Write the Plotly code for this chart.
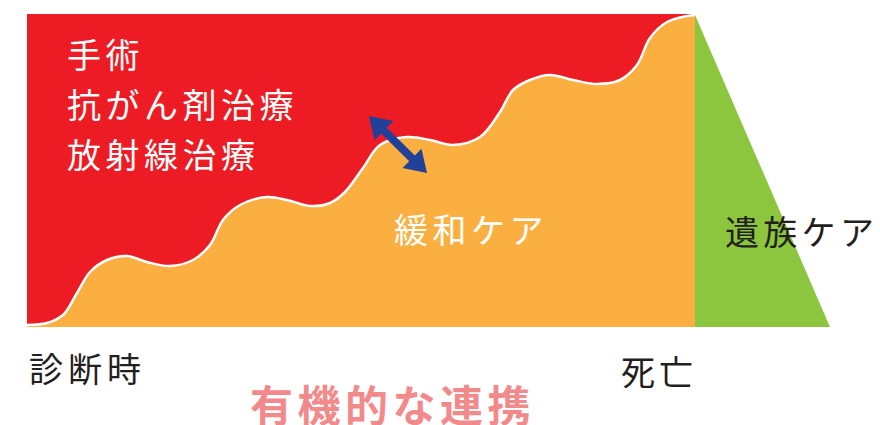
import numpy as np
import plotly.graph_objects as go

# ---- data (pixel-space diagram coordinates) ----
panel_x = [27, 695]
panel_y = [14, 327]
wave_x = [27, 47, 63, 77, 90, 107, 127, 147, 170, 193, 210, 223, 240, 267, 287, 310, 330,
          345, 363, 380, 407, 430, 453, 480, 500, 513, 530, 550, 573, 597, 620, 637, 650,
          667, 687, 695]
wave_y = [325, 323, 315, 293, 272, 260, 256, 262, 266, 260, 245, 220, 205, 197, 200, 206, 203,
          192, 168, 145, 137, 140, 145, 137, 112, 90, 80, 75, 80, 84, 80, 65, 38,
          22, 16, 15]
green_x = [695, 830, 695]
green_y = [15, 327, 327]
arrow_start = (369, 116)
arrow_end = (427, 173)

treat_labels = ["手術", "抗がん剤治療", "放射線治療"]
treat_y = [53, 103, 153]
palliative_label = "緩和ケア"
bereave_label = "遺族ケア"
diag_label = "診断時"
death_label = "死亡"
coop_label = "有機的な連携"

RED = "#ED1C24"
ORANGE = "#FAAF40"
GREEN = "#8CC63F"
BLUE = "#21409A"
DARK = "#231F20"
PINK = "#F28A8C"
FONT = "Noto Sans CJK JP"

fig = go.Figure()

# orange panel
fig.add_trace(go.Scatter(
    x=[panel_x[0], panel_x[1], panel_x[1], panel_x[0], panel_x[0]],
    y=[panel_y[0], panel_y[0], panel_y[1], panel_y[1], panel_y[0]],
    fill="toself", fillcolor=ORANGE, line=dict(width=0), mode="lines",
    hoverinfo="skip", showlegend=False))

# top edge (reference for red fill)
fig.add_trace(go.Scatter(
    x=[panel_x[0], panel_x[1]], y=[panel_y[0], panel_y[0]],
    mode="lines", line=dict(width=0, color=RED), hoverinfo="skip", showlegend=False))

# red area above the wave, with white wave line
fig.add_trace(go.Scatter(
    x=wave_x, y=wave_y, mode="lines", fill="tonexty", fillcolor=RED,
    line=dict(color="white", width=2.5, shape="spline", smoothing=1.0),
    hoverinfo="skip", showlegend=False))

# left-bottom corner patch of red (below wave start)
fig.add_trace(go.Scatter(
    x=[panel_x[0], wave_x[0], panel_x[0]], y=[wave_y[0], wave_y[0], panel_y[1]],
    mode="lines", line=dict(width=0), fill="toself", fillcolor=RED,
    hoverinfo="skip", showlegend=False))

# green triangle
fig.add_trace(go.Scatter(
    x=green_x + [green_x[0]], y=green_y + [green_y[0]],
    fill="toself", fillcolor=GREEN, line=dict(width=0), mode="lines",
    hoverinfo="skip", showlegend=False))

# double-headed arrow polygon built from its two end points
p0 = np.array(arrow_start, dtype=float)
p1 = np.array(arrow_end, dtype=float)
d = (p1 - p0) / np.linalg.norm(p1 - p0)
n = np.array([-d[1], d[0]])
head_len, head_hw, shaft_hw = 21.0, 13.5, 4.0
b0 = p0 + d * head_len
b1 = p1 - d * head_len
poly = [p0, b0 + n * head_hw, b0 + n * shaft_hw, b1 + n * shaft_hw, b1 + n * head_hw, p1,
        b1 - n * head_hw, b1 - n * shaft_hw, b0 - n * shaft_hw, b0 - n * head_hw, p0]
fig.add_trace(go.Scatter(
    x=[p[0] for p in poly], y=[p[1] for p in poly], mode="lines",
    fill="toself", fillcolor=BLUE, line=dict(width=0, color=BLUE),
    hoverinfo="skip", showlegend=False))

ann = []


def sp(t, ls):
    return f'<span style="letter-spacing:{ls}px">{t}</span>'


for lab, yy in zip(treat_labels, treat_y):
    ann.append(dict(x=65, y=yy, xref="x", yref="y", text=sp(lab, 4.5), showarrow=False,
                    xanchor="left", yanchor="middle",
                    font=dict(family=FONT, size=34, color="white")))

ann.append(dict(x=392, y=228, xref="x", yref="y", text=sp(palliative_label, 4.5),
                showarrow=False, xanchor="left", yanchor="middle",
                font=dict(family=FONT, size=34, color="white")))
ann.append(dict(x=723, y=230, xref="x", yref="y", text=sp(bereave_label, 4.3),
                showarrow=False, xanchor="left", yanchor="middle",
                font=dict(family=FONT, size=34, color=DARK)))
ann.append(dict(x=27, y=367, xref="x", yref="y", text=sp(diag_label, 5),
                showarrow=False, xanchor="left", yanchor="middle",
                font=dict(family=FONT, size=34, color=DARK)))
ann.append(dict(x=619, y=370, xref="x", yref="y", text=sp(death_label, 4),
                showarrow=False, xanchor="left", yanchor="middle",
                font=dict(family=FONT, size=34, color=DARK)))
ann.append(dict(x=248, y=403, xref="x", yref="y", text=sp("<b>" + coop_label + "</b>", 4.5),
                showarrow=False, xanchor="left", yanchor="middle",
                font=dict(family=FONT, size=43, color=PINK)))

fig.update_layout(
    width=880, height=425,
    margin=dict(l=0, r=0, t=0, b=0),
    paper_bgcolor="white", plot_bgcolor="white",
    xaxis=dict(range=[0, 880], visible=False, fixedrange=True),
    yaxis=dict(range=[425, 0], visible=False, fixedrange=True),
    annotations=ann,
    showlegend=False,
)

fig.write_html("out.html", config={"displayModeBar": False},
               post_script="document.body.style.margin='0';document.body.style.overflow='hidden';")
